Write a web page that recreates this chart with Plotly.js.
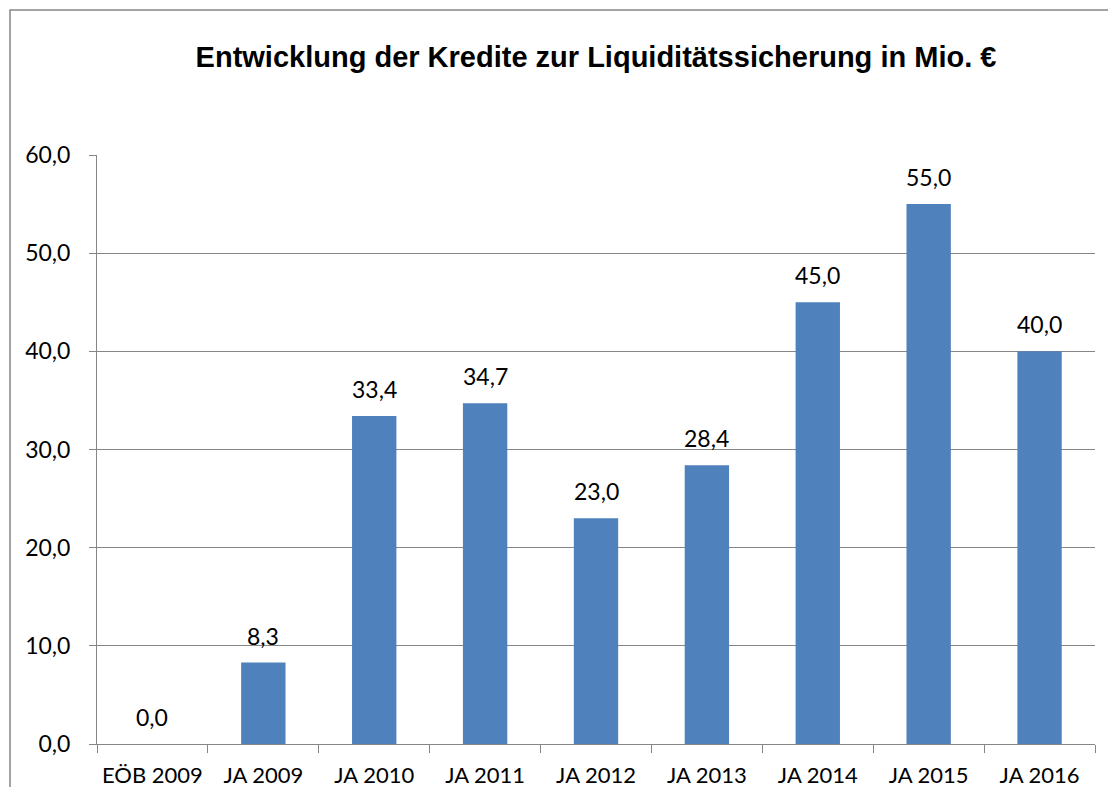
<!DOCTYPE html>
<html>
<head>
<meta charset="utf-8">
<script src="https://cdn.plot.ly/plotly-3.0.1.min.js"></script>
<style>
html,body{margin:0;padding:0;background:#fff;}
#chart{width:1108px;height:787px;}
</style>
</head>
<body>
<div id="chart"></div>
<script>
const categories = ["EÖB 2009", "JA 2009", "JA 2010", "JA 2011", "JA 2012", "JA 2013", "JA 2014", "JA 2015", "JA 2016"];
const values = [0.0, 8.3, 33.4, 34.7, 23.0, 28.4, 45.0, 55.0, 40.0];
const titleText = "Entwicklung der Kredite zur Liquiditätssicherung in Mio. €";

const labelFont = {family: "Lato, 'Open Sans', sans-serif", size: 23, color: "#000"};
const xLabelFont = {family: "Lato, 'Open Sans', sans-serif", size: 22, color: "#000"};
const gridColor = "#868686";

const trace = {
  type: "bar",
  x: categories,
  y: values,
  marker: {color: "#4F81BD"},
  hoverinfo: "skip"
};

const annotations = categories.map((c, i) => ({
  x: c, y: values[i], xref: "x", yref: "y",
  text: values[i].toFixed(1).replace(".", ","),
  showarrow: false, yanchor: "bottom", yshift: 11,
  font: labelFont
}));

const layout = {
  width: 1108, height: 787,
  margin: {l: 97, r: 13, t: 155, b: 43},
  paper_bgcolor: "#fff", plot_bgcolor: "#fff",
  separators: ",.",
  showlegend: false,
  bargap: 0.6,
  title: {
    text: "<b>" + titleText + "</b>",
    font: {family: "'Liberation Sans', Arial, sans-serif", size: 29, color: "#000"},
    x: 0.5, xref: "paper", xanchor: "center",
    y: 1 - 57/787, yref: "container", yanchor: "middle"
  },
  xaxis: {
    type: "category",
    tickson: "boundaries",
    tickangle: 0,
    ticks: "outside", ticklen: 8, tickcolor: gridColor, tickwidth: 1,
    showline: true, linecolor: gridColor, linewidth: 1,
    showgrid: false,
    tickfont: xLabelFont,
    ticklabelstandoff: 12,
    fixedrange: true
  },
  yaxis: {
    range: [0, 60], dtick: 10, tick0: 0,
    tickformat: ".1f",
    ticks: "outside", ticklen: 7, tickcolor: gridColor, tickwidth: 1,
    showline: true, linecolor: gridColor, linewidth: 1,
    showgrid: true, gridcolor: gridColor, gridwidth: 1,
    zeroline: false,
    tickfont: labelFont,
    ticklabelstandoff: 14,
    fixedrange: true
  },
  shapes: [{
    type: "rect", xref: "paper", yref: "paper",
    x0: (10 - 97) / 998, x1: 1.1,
    y0: -0.2, y1: (744 - 10) / 589,
    line: {color: gridColor, width: 1.5},
    fillcolor: "rgba(0,0,0,0)", layer: "below"
  }],
  annotations: annotations
};

Plotly.newPlot("chart", [trace], layout, {displayModeBar: false, staticPlot: true});
</script>
</body>
</html>
